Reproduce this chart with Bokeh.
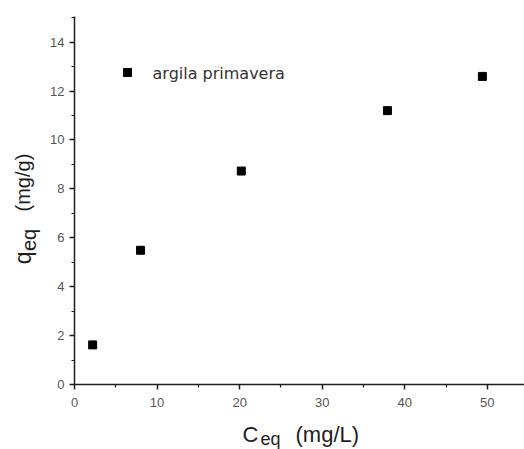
import math

from bokeh.plotting import figure
from bokeh.layouts import row, column
from bokeh.models import Range1d, FixedTicker
from bokeh.core.properties import value
from bokeh.embed import file_html
from bokeh.resources import INLINE

# Adsorption isotherm: equilibrium concentration vs. adsorbed amount
c_eq = [2.2, 8.0, 20.2, 37.9, 49.4]        # mg/L
q_eq = [1.62, 5.49, 8.73, 11.2, 12.6]      # mg/g
series_name = "argila primavera"

x_ticks = [0, 10, 20, 30, 40, 50]
x_minor = [5, 15, 25, 35, 45, 55]
y_ticks = [0, 2, 4, 6, 8, 10, 12, 14]
y_minor = [1, 3, 5, 7, 9, 11, 13, 15]

LABEL_FONT = "Liberation Sans"
INK = "#1e1e1e"

W, H = 524, 449
YLAB_W = 46      # strip on the left holding the rotated y title
XLAB_H = 30      # strip at the bottom holding the x title
AXIS_X = 74      # canvas x of the y axis
AXIS_Y = 384     # canvas y of the x axis


def blank(width, height, x0, x1, y0, y1):
    """Axis-less canvas whose data units are pixels (y grows downwards)."""
    f = figure(width=width, height=height, output_backend="svg", toolbar_location=None,
               x_range=Range1d(x0, x1), y_range=Range1d(y1, y0),
               x_axis_location=None, y_axis_location=None, min_border=0)
    f.outline_line_color = None
    f.xgrid.visible = False
    f.ygrid.visible = False
    f.background_fill_color = "white"
    f.border_fill_color = "white"
    return f


# ---- main scatter plot ----
p = figure(width=W - YLAB_W, height=H - XLAB_H, output_backend="svg", toolbar_location=None,
           x_range=Range1d(0, 54.5), y_range=Range1d(0, 15.05),
           min_border_left=AXIS_X - YLAB_W, min_border_right=0, min_border_top=16,
           min_border_bottom=H - XLAB_H - AXIS_Y)
p.outline_line_color = None
p.xgrid.visible = False
p.ygrid.visible = False
p.background_fill_color = "white"
p.border_fill_color = "white"

for ax, major, minor in ((p.xaxis[0], x_ticks, x_minor), (p.yaxis[0], y_ticks, y_minor)):
    ax.ticker = FixedTicker(ticks=major, minor_ticks=minor)
    ax.axis_line_color = INK
    ax.axis_line_width = 1.5
    ax.major_tick_line_color = INK
    ax.major_tick_line_width = 1.5
    ax.minor_tick_line_color = INK
    ax.minor_tick_line_width = 1.2
    ax.major_tick_out = 5
    ax.major_tick_in = 0
    ax.minor_tick_out = 3
    ax.minor_tick_in = 0
    ax.major_label_text_font = LABEL_FONT
    ax.major_label_text_font_size = "13px"
    ax.major_label_text_color = "#555555"

p.xaxis[0].major_label_standoff = 8
p.yaxis[0].major_label_standoff = 5

# data points
p.scatter(c_eq, q_eq, marker="square", size=8, color="black")

# legend entry (marker + name)
p.scatter([6.42], [12.76], marker="square", size=8, color="black")
p.text([9.45], [12.72], text=[series_name], text_font=value("DejaVu Sans"),
       text_font_size="16px", text_color="#333333",
       text_baseline="middle", text_align="left")

# ---- y title: q_eq (mg/g), rotated ----
ylab = blank(YLAB_W, H - XLAB_H, 0, YLAB_W, 0, H - XLAB_H)
rot = math.pi / 2
ylab.text([22], [282], text=["q"], angle=rot, text_font=value(LABEL_FONT),
          text_font_size="23px", text_color=INK,
          text_baseline="alphabetic", text_align="left")
ylab.text([28], [267], text=["eq"], angle=rot, text_font=value(LABEL_FONT),
          text_font_size="20px", text_color=INK,
          text_baseline="alphabetic", text_align="left")
ylab.text([22], [222], text=["(mg/g)"], angle=rot, text_font=value(LABEL_FONT),
          text_font_size="20px", text_color=INK,
          text_baseline="alphabetic", text_align="left")

# ---- x title: C_eq (mg/L) ----
xlab = blank(W, XLAB_H, 0, W, H - XLAB_H, H)
xlab.text([242], [434], text=["C"], text_font=value(LABEL_FONT),
          text_font_size="22px", text_color=INK,
          text_baseline="alphabetic", text_align="left")
xlab.text([260], [438], text=["eq"], text_font=value(LABEL_FONT),
          text_font_size="18px", text_color=INK,
          text_baseline="alphabetic", text_align="left")
xlab.text([295], [434], text=["(mg/L)"], text_font=value(LABEL_FONT),
          text_font_size="22px", text_color=INK,
          text_baseline="alphabetic", text_align="left")

layout = column(row(ylab, p, spacing=0), xlab, spacing=0)

open("out.html", "w").write(file_html(layout, INLINE))
